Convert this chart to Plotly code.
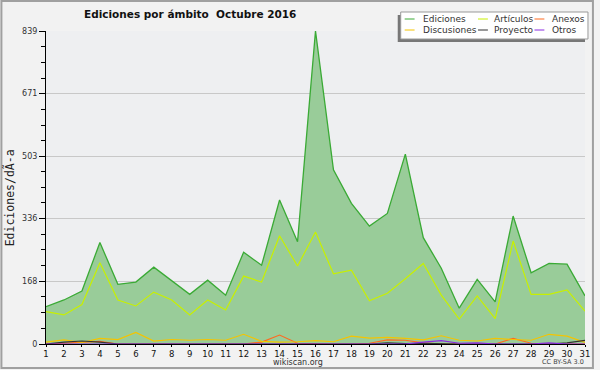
import plotly.graph_objects as go

days = list(range(1, 32))
ediciones = [100, 118, 142, 272, 160, 166, 206, 169, 133, 171, 131, 246, 211, 386, 274,
             839, 467, 377, 316, 350, 509, 285, 203, 96, 173, 113, 343, 191, 216, 214, 129]
articulos = [87, 78, 106, 218, 118, 102, 139, 118, 78, 118, 91, 182, 166, 290, 209,
             300, 188, 198, 116, 136, 175, 216, 131, 67, 129, 68, 276, 133, 133, 145, 88]
discusiones = [5, 11, 4, 15, 12, 31, 8, 12, 10, 12, 10, 26, 7, 5, 6,
               9, 6, 21, 16, 18, 15, 11, 22, 10, 8, 15, 12, 10, 26, 21, 4]
anexos = [0, 3, 5, 7, 0, 0, 0, 1, 1, 1, 0, 0, 5, 24, 2,
          0, 0, 0, 2, 11, 10, 3, 0, 0, 0, 0, 15, 2, 0, 0, 0]
proyecto = [0, 5, 8, 5, 0, 0, 0, 0, 0, 0, 0, 0, 0, 0, 0,
            0, 0, 0, 0, 3, 1, 2, 0, 0, 0, 0, 0, 0, 0, 3, 10]
otros = [0, 0, 0, 0, 0, 0, 0, 0, 0, 0, 0, 0, 0, 0, 2,
         1, 0, 0, 0, 0, 0, 5, 9, 2, 3, 0, 0, 0, 3, 0, 0]
y_ticks = [0, 168, 336, 503, 671, 839]

series = [
    ("Ediciones", ediciones, "#3aaa35"),
    ("Artículos", articulos, "#c8f000"),
    ("Anexos", anexos, "#ff6a20"),
    ("Discusiones", discusiones, "#f5c400"),
    ("Proyecto", proyecto, "#333333"),
    ("Otros", otros, "#8a2be2"),
]

fig = go.Figure()
fig.add_trace(go.Scatter(x=days, y=ediciones, mode="lines", fill="tozeroy",
                         fillcolor="#99cc99", line=dict(color="#3aaa35", width=1.3),
                         name="Ediciones", showlegend=False))
for name, vals, col in series[1:]:
    fig.add_trace(go.Scatter(x=days, y=vals, mode="lines",
                             line=dict(color=col, width=1.2), name=name, showlegend=False))

L, R, T, B = 46, 590, 31, 344
W, H = R - L, B - T


def px(x):
    return (x - L) / W


def py(y):
    return (B - y) / H


shapes = [
    dict(type="rect", xref="paper", yref="paper", x0=px(1), x1=px(598), y0=py(1), y1=py(368),
         line=dict(color="#a0a0a0", width=2), fillcolor="rgba(0,0,0,0)", layer="below"),
    dict(type="rect", xref="paper", yref="paper", x0=px(401), x1=px(590), y0=py(15), y1=py(42),
         line=dict(width=0), fillcolor="#777777"),
    dict(type="rect", xref="paper", yref="paper", x0=px(404), x1=px(593), y0=py(12), y1=py(39),
         line=dict(color="#999999", width=1), fillcolor="#ffffff"),
]
annotations = [
    dict(text="<b>Ediciones por ámbito  Octubre 2016</b>", xref="paper", yref="paper",
         x=px(191), y=py(14), showarrow=False, xanchor="center", yanchor="middle",
         font=dict(size=10.5, color="#111111", family="DejaVu Sans")),
    dict(text="Ediciones/dÃ-a", xref="paper", yref="paper", x=px(10), y=py(198),
         showarrow=False, textangle=-90, xanchor="center", yanchor="middle",
         font=dict(size=11.5, color="#222222", family="DejaVu Sans Mono")),
    dict(text="wikiscan.org", xref="paper", yref="paper", x=px(300), y=py(368),
         showarrow=False, xanchor="center", yanchor="bottom", borderpad=0,
         font=dict(size=8, color="#333333", family="DejaVu Sans")),
    dict(text="CC BY-SA 3.0", xref="paper", yref="paper", x=px(590), y=py(367),
         showarrow=False, xanchor="right", yanchor="bottom", borderpad=0,
         font=dict(size=6.5, color="#444444", family="DejaVu Sans")),
]

cols_x = [(408, 424), (482, 496), (539, 555)]
rows_y = [19, 30]
for i, (name, vals, col) in enumerate(series):
    r, c = divmod(i, 3)
    lx, tx = cols_x[c]
    yy = rows_y[r]
    shapes.append(dict(type="line", xref="paper", yref="paper", x0=px(lx), x1=px(lx + 10),
                       y0=py(yy), y1=py(yy), line=dict(color=col, width=1)))
    annotations.append(dict(text=name, xref="paper", yref="paper", x=px(tx), y=py(yy),
                            showarrow=False, xanchor="left", yanchor="middle",
                            font=dict(size=9, color="#333333", family="DejaVu Sans")))

fig.update_layout(
    width=600, height=370,
    margin=dict(l=L, r=600 - R, t=T, b=370 - B),
    paper_bgcolor="#f2f2f2", plot_bgcolor="#eeeff1",
    font=dict(family="DejaVu Sans", size=9, color="#222222"),
    shapes=shapes, annotations=annotations, showlegend=False,
    xaxis=dict(range=[1, 31], tickmode="array", tickvals=days, ticktext=[str(d) for d in days],
               ticks="outside", ticklen=2, tickcolor="#000000", showgrid=False,
               showline=True, linecolor="#000000", linewidth=1, zeroline=False,
               tickfont=dict(size=8.5, color="#111111")),
    yaxis=dict(range=[0, 839], tickmode="array", tickvals=y_ticks,
               ticktext=[str(v) for v in y_ticks], ticks="outside", ticklen=6,
               tickcolor="#000000", showgrid=True, gridcolor="#c8c8c8", gridwidth=1,
               showline=True, linecolor="#000000", linewidth=1, zeroline=False,
               tickfont=dict(size=8, color="#333333"),
               minor=dict(tickmode="array", tickvals=[42, 84, 126, 210, 252, 294, 378, 420, 462,
                                                      545, 587, 629, 713, 755, 797],
                          ticks="outside", ticklen=4, tickcolor="#000000", showgrid=False)),
)

fig.write_html("out.html", config={"displayModeBar": False},
               post_script="document.body.style.margin='0';document.body.style.padding='0';")
